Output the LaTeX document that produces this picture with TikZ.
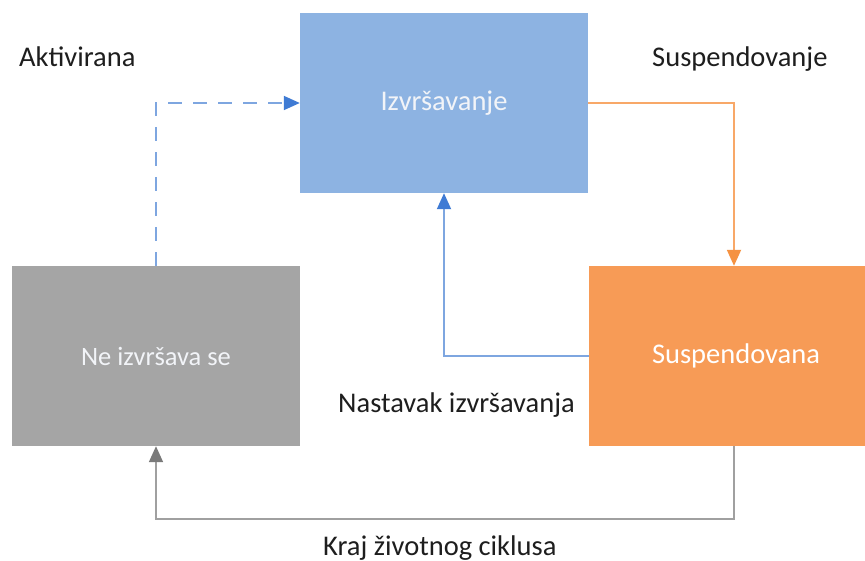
\documentclass[tikz,border=0pt]{standalone}
\usepackage{fontspec}
\setmainfont{Carlito}
\usetikzlibrary{arrows.meta}
\definecolor{runfill}{HTML}{8DB3E2}
\definecolor{idlefill}{HTML}{A5A5A5}
\definecolor{suspfill}{HTML}{F79B56}
\definecolor{blueline}{HTML}{7EA6E0}
\definecolor{bluehead}{HTML}{3F7BD4}
\definecolor{orangeline}{HTML}{F8A868}
\definecolor{orangehead}{HTML}{F59242}
\definecolor{grayline}{HTML}{A0A0A0}
\definecolor{grayhead}{HTML}{7A7A7A}
\definecolor{labeltext}{HTML}{1E1E1E}
\definecolor{boxtext}{HTML}{F2F4F8}
\tikzset{
  statebox/.style={rectangle, inner sep=0pt, minimum height=180pt, text=boxtext,
    font=\fontsize{28.5}{34}\selectfont},
  link/.style={line width=1.8pt},
  lbl/.style={inner sep=0pt, anchor=base west, text=labeltext, font=\fontsize{28.5}{34}\selectfont},
  tip/.style={-{Triangle[length=16pt,width=14pt,color=#1]}}
}
\begin{document}
\begin{tikzpicture}[x=1pt,y=-1pt]
\useasboundingbox (0,0) rectangle (865,561);
\fill[white] (0,0) rectangle (865,561);

% states
\node[statebox, fill=runfill, minimum width=288pt] (run) at (444,103) {Izvršavanje};
\node[statebox, fill=idlefill, minimum width=288pt, font=\fontsize{26.5}{32}\selectfont] (idle) at (156,356) {Ne izvršava se};
\node[statebox, fill=suspfill, minimum width=276pt, text=white] (susp) at (727,356) {\hspace*{18pt}Suspendovana};

% transitions
\draw[link, blueline, dash pattern=on 14pt off 11pt, tip=bluehead] (idle.north) |- (run.west);
\draw[link, orangeline, tip=orangehead] (run.east) -| ([xshift=7pt]susp.north);
\draw[link, blueline, tip=bluehead] (susp.west) -| (run.south);
\coordinate (bottom) at (0,519);
\draw[link, grayline, tip=grayhead] ([xshift=7pt]susp.south) |- (bottom -| idle.south) -- (idle.south);

% transition labels
\node[lbl] (lactive) at (19,67) {Aktivirana};
\node[lbl] (lsusp) at (652,67) {Suspendovanje};
\node[lbl] (lresume) at (338,412) {Nastavak izvršavanja};
\node[lbl] (lend) at (323,555) {Kraj životnog ciklusa};
\end{tikzpicture}
\end{document}
